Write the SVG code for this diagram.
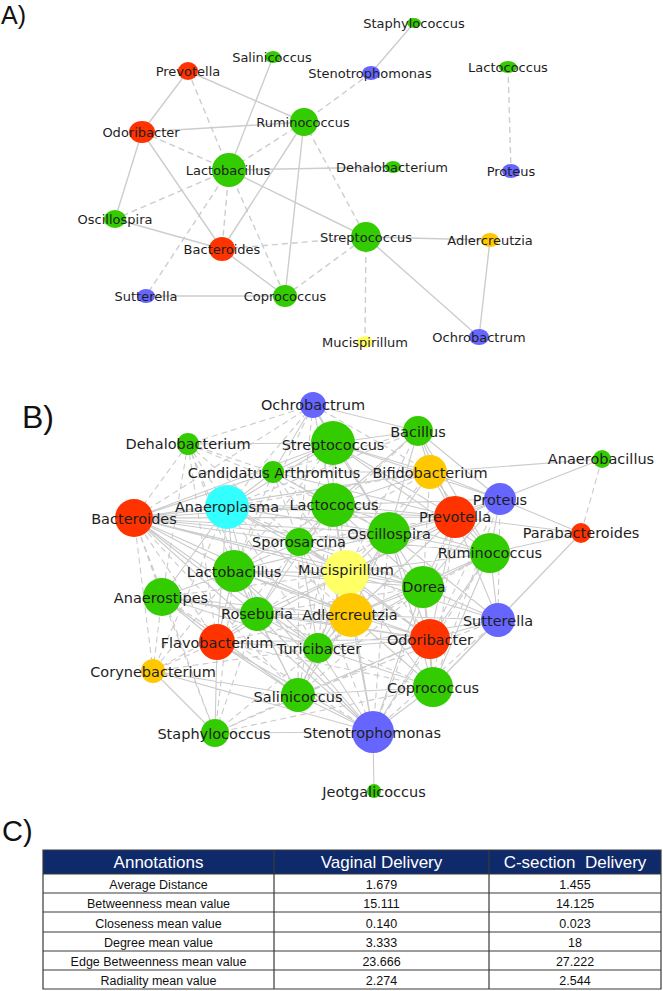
<svg xmlns="http://www.w3.org/2000/svg" width="663" height="991" viewBox="0 0 663 991">
<style>
.e{fill:none;stroke:#cdcdcd;stroke-width:1.4}
.eb{fill:none;stroke:#cbcbcb;stroke-width:1.1}
.d{stroke-dasharray:6 4}
.t{font-family:"DejaVu Sans",sans-serif;fill:#1e1e1e;text-anchor:middle}
.ta{font-size:13px}
.tb{font-size:14.5px}
.g{fill:#33cc00}.r{fill:#ff3300}.bl{fill:#6666ff}.o{fill:#ffc800}.y{fill:#ffff66}.c{fill:#33ffff}
.pl{font-family:"Liberation Sans",sans-serif;fill:#111}
.th{font-family:"Liberation Sans",sans-serif;font-size:17px;fill:#fff;text-anchor:middle}
.td{font-family:"Liberation Sans",sans-serif;font-size:12.5px;fill:#111;text-anchor:middle}
.grid{stroke:#3a3a3a;stroke-width:1.2;fill:none}
</style>
<rect width="663" height="991" fill="#fff"/>

<!-- Panel labels -->
<text class="pl" x="1" y="24" font-size="25">A)</text>
<text class="pl" x="22" y="428" font-size="32">B)</text>
<text class="pl" x="2" y="841" font-size="29">C)</text>

<!-- ===== Panel A connectors ===== -->
<g id="edges-a">
<path class="e" d="M414 23L371 73M273 57L229 170M188 71L142 132M188 71L304 122M142 132L304 122M142 132L115 219M142 132L222 249M304 122L222 249M304 122L285 296M229 170L393 167M229 170L366 237M115 219L222 249M222 249L285 296M146 296L285 296M366 237L490 240M366 237L479 337M490 240L479 337"/>
<path class="e d" d="M371 73L304 122M508 67L511 171M188 71L229 170M142 132L229 170M304 122L229 170M229 170L115 219M229 170L222 249M229 170L146 296M229 170L285 296M304 122L366 237M222 249L366 237M285 296L366 237M366 237L365 342"/>
</g>

<!-- ===== Panel A nodes ===== -->
<g id="a-staphylococcus"><ellipse class="g" cx="414" cy="23" rx="7" ry="5"/><text class="t ta" x="414" y="28">Staphylococcus</text></g>
<g id="a-stenotrophomonas"><ellipse class="bl" cx="371" cy="73" rx="9" ry="7"/><text class="t ta" x="370" y="78">Stenotrophomonas</text></g>
<g id="a-lactococcus"><ellipse class="g" cx="508" cy="67" rx="9" ry="6"/><text class="t ta" x="508" y="72">Lactococcus</text></g>
<g id="a-salinicoccus"><ellipse class="g" cx="273" cy="57" rx="8" ry="6"/><text class="t ta" x="272" y="62">Salinicoccus</text></g>
<g id="a-prevotella"><ellipse class="r" cx="188" cy="71" rx="10" ry="9"/><text class="t ta" x="188" y="76">Prevotella</text></g>
<g id="a-odoribacter"><ellipse class="r" cx="142" cy="132" rx="13" ry="11"/><text class="t ta" x="141" y="137">Odoribacter</text></g>
<g id="a-ruminococcus"><circle class="g" cx="304" cy="122" r="14"/><text class="t ta" x="303" y="127">Ruminococcus</text></g>
<g id="a-lactobacillus"><circle class="g" cx="229" cy="170" r="17"/><text class="t ta" x="228" y="175">Lactobacillus</text></g>
<g id="a-dehalobacterium"><ellipse class="g" cx="393" cy="167" rx="8" ry="6"/><text class="t ta" x="392" y="172">Dehalobacterium</text></g>
<g id="a-proteus"><ellipse class="bl" cx="511" cy="171" rx="9" ry="7"/><text class="t ta" x="511" y="176">Proteus</text></g>
<g id="a-oscillospira"><ellipse class="g" cx="115" cy="219" rx="11" ry="9"/><text class="t ta" x="115" y="224">Oscillospira</text></g>
<g id="a-bacteroides"><ellipse class="r" cx="222" cy="249" rx="13" ry="12"/><text class="t ta" x="222" y="254">Bacteroides</text></g>
<g id="a-streptococcus"><circle class="g" cx="366" cy="237" r="15"/><text class="t ta" x="366" y="242">Streptococcus</text></g>
<g id="a-adlercreutzia"><ellipse class="o" cx="490" cy="240" rx="9" ry="7"/><text class="t ta" x="490" y="245">Adlercreutzia</text></g>
<g id="a-sutterella"><ellipse class="bl" cx="146" cy="296" rx="9" ry="7"/><text class="t ta" x="146" y="301">Sutterella</text></g>
<g id="a-coprococcus"><ellipse class="g" cx="285" cy="296" rx="12" ry="11"/><text class="t ta" x="285" y="301">Coprococcus</text></g>
<g id="a-mucispirillum"><ellipse class="y" cx="365" cy="342" rx="8" ry="6"/><text class="t ta" x="365" y="347">Mucispirillum</text></g>
<g id="a-ochrobactrum"><ellipse class="bl" cx="479" cy="337" rx="10" ry="8"/><text class="t ta" x="479" y="342">Ochrobactrum</text></g>

<!-- ===== Panel B connectors ===== -->
<g id="edges-b">
<path class="eb" d="M313 405L333 443M313 405L418 431M313 405L333 505M313 405L273 472M313 405L389 533
M188 444L333 443
M333 443L418 431M333 443L273 472M333 443L430 472M333 443L333 505M333 443L455 517M333 443L389 533M333 443L134 518M333 443L227 507M333 443L500 499M333 443L490 553M333 443L423 587
M418 431L430 472M418 431L500 499M418 431L455 517M418 431L333 505M418 431L389 533M418 431L490 553
M273 472L333 505M273 472L227 507M273 472L134 518M273 472L430 472M273 472L455 517
M430 472L602 459M430 472L500 499M430 472L455 517M430 472L333 505M430 472L389 533M430 472L134 518M430 472L490 553
M602 459L500 499
M227 507L134 518M227 507L333 505M227 507L299 542M227 507L234 571M227 507L389 533M227 507L455 517M227 507L346 573M227 507L162 597M227 507L257 614M227 507L217 642
M333 505L134 518M333 505L389 533M333 505L455 517M333 505L299 542M333 505L234 571M333 505L346 573M333 505L423 587M333 505L500 499M333 505L490 553M333 505L351 615M333 505L257 614
M500 499L455 517M500 499L581 533M500 499L490 553M500 499L389 533M500 499L423 587M500 499L346 573
M455 517L581 533M455 517L389 533M455 517L490 553M455 517L134 518M455 517L346 573M455 517L423 587M455 517L234 571M455 517L498 620M455 517L430 639M455 517L351 615
M581 533L490 553M581 533L433 687M581 533L498 620
M134 518L299 542M134 518L389 533M134 518L234 571M134 518L346 573M134 518L490 553M134 518L423 587M134 518L351 615M134 518L257 614M134 518L318 648M134 518L373 732
M299 542L389 533M299 542L234 571M299 542L346 573M299 542L423 587M299 542L257 614M299 542L351 615M299 542L318 648M299 542L430 639
M389 533L490 553M389 533L346 573M389 533L423 587M389 533L234 571M389 533L351 615M389 533L430 639M389 533L498 620M389 533L433 687M389 533L318 648
M490 553L423 587M490 553L498 620M490 553L430 639M490 553L433 687M490 553L346 573M490 553L351 615
M234 571L346 573M234 571L162 597M234 571L257 614M234 571L351 615M234 571L217 642M234 571L318 648M234 571L423 587M234 571L430 639M234 571L298 695M234 571L373 732
M346 573L423 587M346 573L257 614M346 573L351 615M346 573L498 620M346 573L318 648M346 573L430 639M346 573L433 687M346 573L373 732M346 573L217 642
M423 587L351 615M423 587L498 620M423 587L430 639M423 587L433 687M423 587L318 648M423 587L373 732
M162 597L257 614M162 597L217 642M162 597L351 615M162 597L430 639M162 597L318 648M162 597L298 695
M257 614L351 615M257 614L217 642M257 614L318 648M257 614L298 695M257 614L430 639M257 614L373 732
M351 615L318 648M351 615L430 639M351 615L433 687M351 615L373 732M351 615L498 620M351 615L298 695
M498 620L430 639M498 620L433 687M498 620L318 648
M217 642L318 648M217 642L298 695M217 642L373 732M217 642L215 733M217 642L430 639
M318 648L430 639M318 648L298 695M318 648L433 687M318 648L373 732
M430 639L433 687M430 639L373 732M430 639L298 695
M153 671L298 695M153 671L373 732M153 671L215 733
M298 695L373 732M298 695L433 687
M433 687L373 732
M215 733L373 732
M373 732L374 791"/>
<path class="eb d" d="M313 405L188 444M313 405L134 518M313 405L227 507M313 405L234 571M313 405L299 542M313 405L430 472
M188 444L134 518M188 444L227 507M188 444L234 571M188 444L299 542M188 444L162 597M188 444L333 505M188 444L257 614M188 444L217 642M188 444L273 472
M333 443L234 571M333 443L346 573M333 443L299 542M333 443L351 615
M418 431L273 472M418 431L227 507M418 431L346 573M418 431L299 542
M273 472L299 542M273 472L234 571M273 472L346 573M273 472L389 533
M430 472L227 507M430 472L346 573M430 472L423 587M430 472L299 542
M602 459L581 533
M227 507L351 615M227 507L318 648M227 507L423 587M227 507L153 671
M333 505L318 648M333 505L430 639M333 505L298 695M333 505L217 642
M500 499L430 639M500 499L433 687M500 499L498 620
M455 517L433 687M455 517L299 542M455 517L373 732
M134 518L162 597M134 518L153 671M134 518L215 733M134 518L217 642M134 518L298 695
M299 542L298 695M299 542L373 732
M389 533L298 695M389 533L373 732M389 533L257 614
M490 553L373 732M490 553L318 648
M234 571L153 671M234 571L215 733
M346 573L298 695M346 573L162 597
M423 587L257 614M423 587L298 695
M162 597L153 671M162 597L215 733M162 597L373 732
M257 614L215 733M257 614L433 687
M351 615L217 642
M498 620L373 732M498 620L298 695
M217 642L153 671M217 642L433 687
M318 648L215 733
M430 639L215 733
M153 671L318 648M153 671L257 614
M298 695L215 733
M433 687L215 733"/>
</g>

<!-- ===== Panel B nodes ===== -->
<g id="b-ochrobactrum"><circle class="bl" cx="313" cy="405" r="13"/><text class="t tb" x="313" y="410">Ochrobactrum</text></g>
<g id="b-dehalobacterium"><circle class="g" cx="188" cy="444" r="11"/><text class="t tb" x="188" y="449">Dehalobacterium</text></g>
<g id="b-streptococcus"><circle class="g" cx="333" cy="443" r="22"/><text class="t tb" x="333" y="450">Streptococcus</text></g>
<g id="b-bacillus"><circle class="g" cx="418" cy="431" r="15"/><text class="t tb" x="418" y="437">Bacillus</text></g>
<g id="b-candidatus-arthromitus"><circle class="g" cx="273" cy="472" r="11"/><text class="t tb" x="274" y="478">Candidatus Arthromitus</text></g>
<g id="b-bifidobacterium"><circle class="o" cx="430" cy="472" r="17"/><text class="t tb" x="430" y="478">Bifidobacterium</text></g>
<g id="b-anaerobacillus"><circle class="g" cx="602" cy="459" r="9"/><text class="t tb" x="601" y="464">Anaerobacillus</text></g>
<g id="b-anaeroplasma"><circle class="c" cx="227" cy="507" r="22"/><text class="t tb" x="227" y="512">Anaeroplasma</text></g>
<g id="b-lactococcus"><circle class="g" cx="333" cy="505" r="22"/><text class="t tb" x="334" y="510">Lactococcus</text></g>
<g id="b-proteus"><circle class="bl" cx="500" cy="499" r="16"/><text class="t tb" x="500" y="505">Proteus</text></g>
<g id="b-prevotella"><circle class="r" cx="455" cy="517" r="21"/><text class="t tb" x="455" y="522">Prevotella</text></g>
<g id="b-parabacteroides"><circle class="r" cx="581" cy="533" r="10"/><text class="t tb" x="581" y="538">Parabacteroides</text></g>
<g id="b-bacteroides"><circle class="r" cx="134" cy="518" r="19"/><text class="t tb" x="134" y="524">Bacteroides</text></g>
<g id="b-sporosarcina"><circle class="g" cx="299" cy="542" r="14"/><text class="t tb" x="299" y="547">Sporosarcina</text></g>
<g id="b-oscillospira"><circle class="g" cx="389" cy="533" r="21"/><text class="t tb" x="389" y="539">Oscillospira</text></g>
<g id="b-ruminococcus"><circle class="g" cx="490" cy="553" r="20"/><text class="t tb" x="490" y="558">Ruminococcus</text></g>
<g id="b-lactobacillus"><circle class="g" cx="234" cy="571" r="21"/><text class="t tb" x="234" y="577">Lactobacillus</text></g>
<g id="b-mucispirillum"><circle class="y" cx="346" cy="573" r="23"/><text class="t tb" x="346" y="575">Mucispirillum</text></g>
<g id="b-dorea"><circle class="g" cx="423" cy="587" r="21"/><text class="t tb" x="424" y="592">Dorea</text></g>
<g id="b-anaerostipes"><circle class="g" cx="162" cy="597" r="19"/><text class="t tb" x="161" y="603">Anaerostipes</text></g>
<g id="b-roseburia"><circle class="g" cx="257" cy="614" r="17"/><text class="t tb" x="257" y="619">Roseburia</text></g>
<g id="b-adlercreutzia"><circle class="o" cx="351" cy="615" r="22"/><text class="t tb" x="350" y="620">Adlercreutzia</text></g>
<g id="b-sutterella"><circle class="bl" cx="498" cy="620" r="17"/><text class="t tb" x="498" y="626">Sutterella</text></g>
<g id="b-flavobacterium"><circle class="r" cx="217" cy="642" r="18"/><text class="t tb" x="217" y="648">Flavobacterium</text></g>
<g id="b-turicibacter"><circle class="g" cx="318" cy="648" r="15"/><text class="t tb" x="319" y="654">Turicibacter</text></g>
<g id="b-odoribacter"><circle class="r" cx="430" cy="639" r="20"/><text class="t tb" x="430" y="645">Odoribacter</text></g>
<g id="b-corynebacterium"><circle class="o" cx="153" cy="671" r="12"/><text class="t tb" x="153" y="677">Corynebacterium</text></g>
<g id="b-salinicoccus"><circle class="g" cx="298" cy="695" r="17"/><text class="t tb" x="298" y="702">Salinicoccus</text></g>
<g id="b-coprococcus"><circle class="g" cx="433" cy="687" r="20"/><text class="t tb" x="433" y="693">Coprococcus</text></g>
<g id="b-staphylococcus"><circle class="g" cx="215" cy="733" r="14"/><text class="t tb" x="214" y="739">Staphylococcus</text></g>
<g id="b-stenotrophomonas"><circle class="bl" cx="373" cy="732" r="21"/><text class="t tb" x="372" y="738">Stenotrophomonas</text></g>
<g id="b-jeotgalicoccus"><circle class="g" cx="374" cy="791" r="7"/><text class="t tb" x="374" y="797">Jeotgalicoccus</text></g>

<!-- ===== Panel C table ===== -->
<g id="table">
<rect x="43" y="850" width="618" height="24" fill="#0f2a6b"/>
<path class="grid" d="M43 850H661V989H43ZM43 874H661M43 893H661M43 912H661M43 932H661M43 951H661M43 970H661M274 850V989M489 850V989"/>
<text class="th" x="158.5" y="868">Annotations</text>
<text class="th" x="381.5" y="868">Vaginal Delivery</text>
<text class="th" x="575" y="868" xml:space="preserve">C-section  Delivery</text>
<text class="td" x="158.5" y="889">Average Distance</text>
<text class="td" x="381.5" y="889">1.679</text>
<text class="td" x="575" y="889">1.455</text>
<text class="td" x="158.5" y="908">Betweenness mean value</text>
<text class="td" x="381.5" y="908">15.111</text>
<text class="td" x="575" y="908">14.125</text>
<text class="td" x="158.5" y="928">Closeness mean value</text>
<text class="td" x="381.5" y="928">0.140</text>
<text class="td" x="575" y="928">0.023</text>
<text class="td" x="158.5" y="947">Degree mean value</text>
<text class="td" x="381.5" y="947">3.333</text>
<text class="td" x="575" y="947">18</text>
<text class="td" x="158.5" y="966">Edge Betweenness mean value</text>
<text class="td" x="381.5" y="966">23.666</text>
<text class="td" x="575" y="966">27.222</text>
<text class="td" x="158.5" y="985">Radiality mean value</text>
<text class="td" x="381.5" y="985">2.274</text>
<text class="td" x="575" y="985">2.544</text>
</g>
</svg>
